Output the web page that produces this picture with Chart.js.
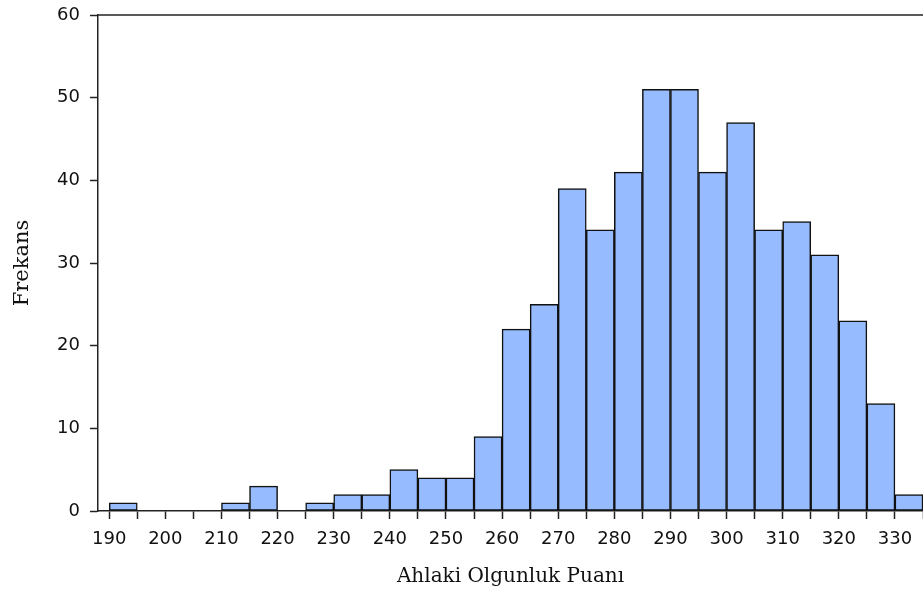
<html lang="tr">
<head>
    <meta charset="UTF-8">
    <title>Ahlaki Olgunluk Puanı</title>
    <script src="https://cdn.jsdelivr.net/npm/chart.js@4"></script>
    <style>
        body { margin: 0; background: #fff; }
    </style>
</head>
<body>
    <canvas id="graph" width="923" height="596"></canvas>

    <script>
        // bin lower edges (width 5) and counts
        const binStarts = [190, 195, 200, 205, 210, 215, 220, 225, 230, 235, 240, 245, 250, 255, 260,
                           265, 270, 275, 280, 285, 290, 295, 300, 305, 310, 315, 320, 325, 330];
        const counts = [1, 0, 0, 0, 1, 3, 0, 1, 2, 2, 5, 4, 4, 9, 22,
                        25, 39, 34, 41, 51, 51, 41, 47, 34, 35, 31, 23, 13, 2];
        const binWidth = 5;
        const xRange = [188, 335];
        const yTicks = [0, 10, 20, 30, 40, 50, 60];

        const points = binStarts.map((b, i) => ({ x: b + binWidth / 2, y: counts[i] }));

        const topLine = {
            id: 'topLine',
            afterDraw(chart) {
                const { ctx, chartArea } = chart;
                ctx.save();
                ctx.strokeStyle = '#222';
                ctx.lineWidth = 1.5;
                ctx.beginPath();
                ctx.moveTo(chartArea.left, chartArea.top);
                ctx.lineTo(chartArea.right, chartArea.top);
                ctx.stroke();
                ctx.restore();
            }
        };

        const ctx = document.getElementById('graph').getContext('2d');
        const myChart = new Chart(ctx, {
            type: 'bar',
            data: {
                datasets: [{
                    data: points,
                    backgroundColor: '#96bbfe',
                    borderColor: '#111',
                    borderWidth: 1.5,
                    borderSkipped: false,
                    barPercentage: 1,
                    categoryPercentage: 1
                }]
            },
            options: {
                responsive: false,
                animation: false,
                layout: { padding: { top: 15, right: 0, left: 0, bottom: 0 } },
                plugins: { legend: { display: false }, tooltip: { enabled: false } },
                scales: {
                    x: {
                        type: 'linear',
                        offset: false,
                        min: xRange[0],
                        max: xRange[1],
                        afterFit(scale) {
                            scale.height = 85;
                            scale.paddingLeft = 0;
                            scale.paddingRight = 0;
                        },
                        grid: { offset: false, drawOnChartArea: false, tickLength: 8, tickWidth: 1.5, tickColor: '#222' },
                        border: { color: '#222', width: 1.5 },
                        ticks: {
                            stepSize: binWidth,
                            includeBounds: false,
                            autoSkip: false,
                            maxRotation: 0,
                            maxTicksLimit: 100,
                            padding: 10,
                            color: '#111',
                            font: { family: 'DejaVu Sans', size: 18 },
                            callback: v => (v % 10 === 0 ? v : '')
                        },
                        title: {
                            display: true,
                            text: 'Ahlaki Olgunluk Puanı',
                            color: '#111',
                            font: { family: 'DejaVu Serif', size: 20 },
                            padding: { top: 0, bottom: 7 }
                        }
                    },
                    y: {
                        min: yTicks[0],
                        max: yTicks[yTicks.length - 1],
                        afterFit(scale) {
                            scale.width = 98;
                            scale.paddingTop = 0;
                            scale.paddingBottom = 0;
                        },
                        grid: { drawOnChartArea: false, tickLength: 8, tickWidth: 1.5, tickColor: '#222' },
                        border: { color: '#222', width: 1.5 },
                        ticks: {
                            stepSize: 10,
                            padding: 10,
                            color: '#111',
                            font: { family: 'DejaVu Sans', size: 18 }
                        },
                        title: {
                            display: true,
                            text: 'Frekans',
                            color: '#111',
                            font: { family: 'DejaVu Serif', size: 21 },
                            padding: { top: 10, bottom: 0 }
                        }
                    }
                }
            },
            plugins: [topLine]
        });
    </script>
</body>
</html>
